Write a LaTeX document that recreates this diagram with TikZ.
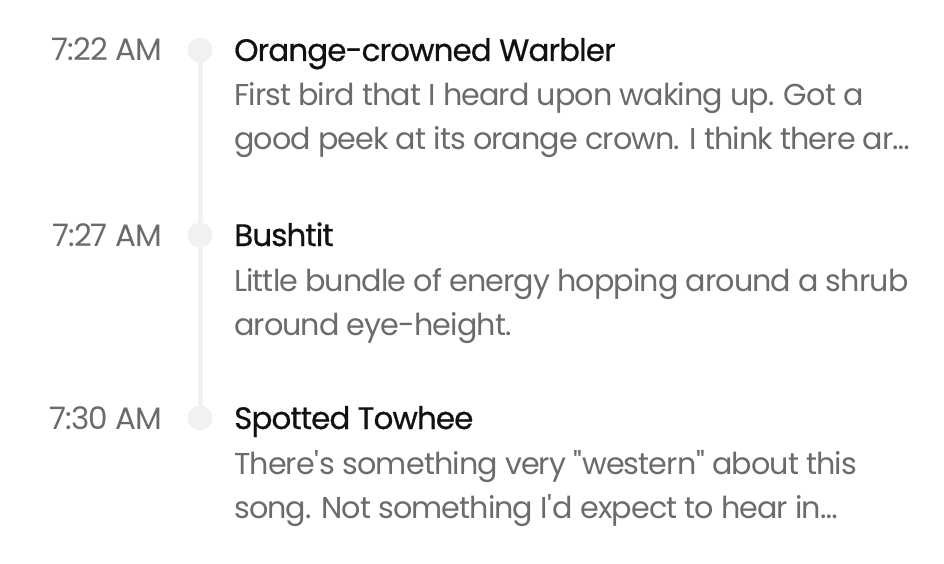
\documentclass[tikz,border=0pt]{standalone}
\usepackage{fontspec}
\setmainfont{Poppins}[LetterSpace=-3]
\newfontfamily\namefont{Poppins}[LetterSpace=-3,FakeBold=0.6]
\definecolor{tlInk}{HTML}{111111}
\definecolor{tlMuted}{HTML}{6B6B6B}
\definecolor{tlRail}{HTML}{F1F1F1}
\usetikzlibrary{positioning}

\tikzset{
  stamp/.style={anchor=base east, text=tlMuted, inner sep=0pt, font=\fontsize{31}{36}\selectfont},
  birdname/.style={anchor=base west, text=tlInk, inner sep=0pt, font=\namefont\fontsize{31}{36}\selectfont},
  birdnote/.style={anchor=base west, text=tlMuted, align=left, inner sep=0pt,
    font=\fontsize{30.2}{44}\selectfont},
  railDot/.style={circle, fill=tlRail, minimum size=25pt, inner sep=0pt},
}

\begin{document}
\begin{tikzpicture}[x=1pt,y=-1pt]
  \useasboundingbox (0,0) rectangle (944,564);
  \fill[white] (0,0) rectangle (944,564);

  % timeline rail
  \node[railDot] (dotA) at (200,50) {};
  \node[railDot] (dotB) at (200,235) {};
  \node[railDot] (dotC) at (200,418) {};
  \draw[tlRail, line width=5pt] (dotA.center) -- (dotB.center) -- (dotC.center);

  % entries (a note node sits on the baseline of its last line)
  \node[stamp] (timeA) at (162,61) {7:22 AM};
  \node[birdname] (nameA) at (234,61) {Orange-crowned Warbler};
  \node[birdnote] (noteA) at (234,150) {First bird that I heard upon waking up. Got a\\good peek at its orange crown. I think there ar\ldots};

  \node[stamp] (timeB) at (162,246) {7:27 AM};
  \node[birdname] (nameB) at (234,246) {Bushtit};
  \node[birdnote] (noteB) at (234,335) {Little bundle of energy hopping around a shrub\\around eye-height.};

  \node[stamp] (timeC) at (162,429) {7:30 AM};
  \node[birdname] (nameC) at (234,429) {Spotted Towhee};
  \node[birdnote] (noteC) at (234,518) {There\textquotesingle s something very \textquotedbl western\textquotedbl{} about this\\song. Not something I\textquotesingle d expect to hear in\ldots};
\end{tikzpicture}
\end{document}
